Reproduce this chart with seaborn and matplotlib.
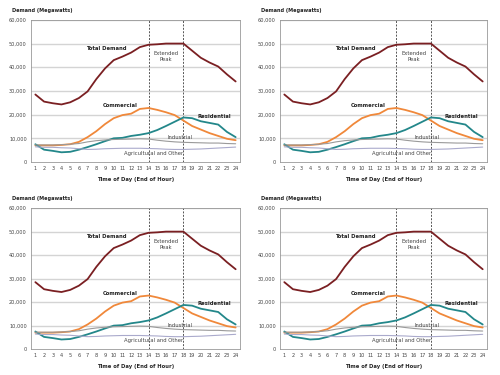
import pandas as pd
import matplotlib.pyplot as plt
import seaborn as sns

# datos (MW por hora)
horas = list(range(1, 25))
total = [28500, 25500, 24800, 24300, 25200, 27000, 29800, 35000, 39500, 43000, 44500, 46200,
         48500, 49500, 49700, 50000, 50000, 50000, 47000, 44000, 42000, 40300, 37000, 34000]
comercial = [7000, 7000, 7000, 7200, 7500, 8500, 10500, 13000, 16000, 18500, 19800, 20400,
             22400, 22800, 22000, 21000, 19800, 17500, 15200, 13700, 12200, 11000, 9800, 9200]
residencial = [7500, 5200, 4700, 4100, 4300, 5200, 6300, 7500, 8800, 10000, 10200, 11000,
               11500, 12200, 13500, 15200, 17000, 18800, 18500, 17200, 16500, 15800, 12700, 10500]
industrial = [7200, 7200, 7200, 7300, 7500, 7800, 8500, 9000, 9300, 9500, 9600, 9700,
              9800, 9700, 9200, 8800, 8500, 8300, 8200, 8100, 8000, 8000, 7800, 7700]
agricola = [6400, 6200, 6200, 6000, 5900, 5600, 5300, 5400, 5600, 5700, 5800, 5800,
            5800, 5700, 5600, 5400, 5300, 5300, 5400, 5500, 5700, 5900, 6100, 6300]

series = {
    "Total Demand": total,
    "Commercial": comercial,
    "Residential": residencial,
    "Industrial": industrial,
    "Agricultural and Other": agricola,
}
colores = {
    "Total Demand": "#7a1f22",
    "Commercial": "#f0883a",
    "Residential": "#23878a",
    "Industrial": "#9a9a9a",
    "Agricultural and Other": "#aaaacc",
}
anchos = {"Total Demand": 1.3, "Commercial": 1.3, "Residential": 1.3,
          "Industrial": 0.8, "Agricultural and Other": 0.8}

df = pd.DataFrame([(s, h, v) for s, vals in series.items() for h, v in zip(horas, vals)],
                  columns=["serie", "hora", "mw"])

# etiquetas (texto, x, y, negrita)
etiquetas = [
    ("Total Demand", 9.2, 47800, True),
    ("Extended\nPeak", 16.0, 44500, False),
    ("Commercial", 10.7, 23800, True),
    ("Residential", 21.5, 19400, True),
    ("Industrial", 17.6, 10200, False),
    ("Agricultural and Other", 14.6, 3500, False),
]

sns.set_style("white")
fig = plt.figure(figsize=(5, 3.75), dpi=100)
posiciones = [
    [0.062, 0.568, 0.418, 0.379],
    [0.560, 0.568, 0.414, 0.379],
    [0.062, 0.069, 0.418, 0.376],
    [0.560, 0.069, 0.414, 0.376],
]

for pos in posiciones:
    ax = fig.add_axes(pos)
    for y in range(10000, 60001, 10000):
        ax.axhline(y, color="#d4d4d4", lw=1.0, zorder=0)
    for s in series:
        sns.lineplot(data=df[df["serie"] == s], x="hora", y="mw", color=colores[s],
                     lw=anchos[s], ax=ax, legend=False)
    for xv in (14, 18):
        ax.axvline(xv, color="#555555", lw=0.7, ls=(0, (2, 1.5)), zorder=1)
    for txt, x, y, negrita in etiquetas:
        ax.text(x, y, txt, fontsize=3.8, ha="center", va="center",
                fontweight="bold" if negrita else "normal",
                color="#222222" if negrita else "#444444", linespacing=1.4)
    ax.set_xlim(0.5, 24.5)
    ax.set_ylim(0, 60000)
    ax.set_xticks(horas)
    ax.set_yticks(range(0, 60001, 10000))
    ax.set_yticklabels(["0"] + [f"{v:,}" for v in range(10000, 60001, 10000)])
    ax.tick_params(labelsize=3.6, length=1.5, width=0.4, pad=1.5, colors="#444444")
    ax.set_xlabel("Time of Day (End of Hour)", fontsize=3.8, fontweight="bold", labelpad=4)
    ax.set_ylabel("")
    ax.text(-0.09, 1.05, "Demand (Megawatts)", transform=ax.transAxes, fontsize=3.6,
            fontweight="bold", ha="left", va="bottom", color="#222222")
    for sp in ax.spines.values():
        sp.set_color("#999999")
        sp.set_linewidth(0.6)

fig.savefig("out.png", dpi=100)
